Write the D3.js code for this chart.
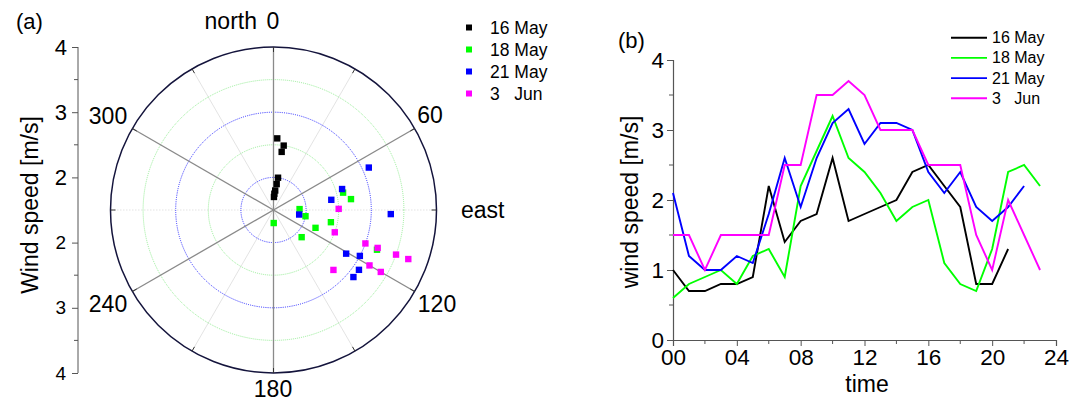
<!DOCTYPE html>
<html>
<head>
<meta charset="utf-8">
<script src="https://cdn.jsdelivr.net/npm/d3@7"></script>
<style>
  html, body { margin: 0; padding: 0; background: #fff; }
  svg { display: block; font-family: Arial, "Liberation Sans", sans-serif; }
  text { white-space: pre; }
</style>
</head>
<body>
<svg id="chart" width="1069" height="402"></svg>
<script>
// ---- data ----
const seriesNames = ["16 May", "18 May", "21 May", "3   Jun"];
const seriesColors = ["#000000", "#00ff00", "#0000ff", "#ff00ff"];

// wind direction (deg, clockwise from north) and speed (m/s)
const dir16May = [3, 9, 8, 8, 7, 5, 3, 2];
const spd16May = [2.6, 2.5, 2.4, 2.0, 1.9, 1.8, 1.75, 1.7];
const dir18May = [179, 88, 101, 76, 82, 113, 102, 111, 134];
const spd18May = [1.7, 1.9, 2.0, 2.6, 2.7, 2.2, 2.4, 3.2, 2.1];
const dir21May = [100, 80, 73, 66, 92, 121, 118, 125, 130];
const spd21May = [1.9, 2.4, 2.6, 3.1, 3.3, 2.8, 3.0, 3.1, 3.1];
const dir3Jun = [89, 110, 110, 110, 110, 110, 120, 120, 135];
const spd3Jun = [2.5, 2.5, 3.0, 3.2, 3.5, 3.7, 3.2, 3.4, 2.8];

// hourly wind speed (m/s)
const hours16May = d3.range(0, 22);
const hours18May = d3.range(0, 24);
const hours21May = d3.range(0, 23);
const hours3Jun = d3.range(0, 24);
const speed16May = [1.0, 0.7, 0.7, 0.8, 0.8, 0.9, 2.2, 1.4, 1.7, 1.8, 2.6, 1.7, 1.8, 1.9, 2.0, 2.4, 2.5, 2.2, 1.9, 0.8, 0.8, 1.3];
const speed18May = [0.6, 0.8, 0.9, 1.0, 0.8, 1.2, 1.3, 0.9, 2.2, 2.7, 3.2, 2.6, 2.4, 2.1, 1.7, 1.9, 2.0, 1.1, 0.8, 0.7, 1.3, 2.4, 2.5, 2.2];
const speed21May = [2.1, 1.2, 1.0, 1.0, 1.2, 1.1, 1.8, 2.6, 1.9, 2.6, 3.1, 3.3, 2.8, 3.1, 3.1, 3.0, 2.4, 2.1, 2.4, 1.9, 1.7, 1.9, 2.2];
const speed3Jun = [1.5, 1.5, 1.0, 1.5, 1.5, 1.5, 1.5, 2.5, 2.5, 3.5, 3.5, 3.7, 3.5, 3.0, 3.0, 3.0, 2.5, 2.5, 2.5, 1.5, 1.0, 2.0, 1.5, 1.0];

const radialTicks = [2, 3, 4];
const radialMinorTicks = [2.5, 3.5];
const greenRings = [2.5, 3.5];
const blueRings = [2, 3];
const majorAngles = [0, 60, 120];
const minorAngles = [30, 90, 150];
const timeTicks = [0, 4, 8, 12, 16, 20, 24];
const timeMinorTicks = [2, 6, 10, 14, 18, 22];
const speedTicks = [0, 1, 2, 3, 4];
const speedMinorTicks = [0.5, 1.5, 2.5, 3.5];

const svg = d3.select("#chart");
const FONT = "Arial, 'Liberation Sans', sans-serif";

// ================= panel (a): polar scatter =================
const cx = 273.5, cy = 210, R = 163;
const rScale = d3.scaleLinear().domain([1.5, 4]).range([0, R]);
const aScale = d3.scaleLinear().domain([0, 360]).range([0, 2 * Math.PI]);
const px = (deg, v) => cx + rScale(v) * Math.sin(aScale(deg));
const py = (deg, v) => cy - rScale(v) * Math.cos(aScale(deg));

const polar = svg.append("g");

// minor spokes
minorAngles.forEach(a => {
  polar.append("line")
    .attr("x1", px(a, 4)).attr("y1", py(a, 4))
    .attr("x2", px(a + 180, 4)).attr("y2", py(a + 180, 4))
    .attr("stroke", "#dcdcdc").attr("stroke-width", 0.8)
    .attr("stroke-dasharray", a === 90 ? "1.5,1.5" : null);
});

// rings
greenRings.forEach(v => {
  polar.append("circle").attr("cx", cx).attr("cy", cy).attr("r", rScale(v))
    .attr("fill", "none").attr("stroke", "#7fe87f").attr("stroke-width", 0.8)
    .attr("stroke-dasharray", "1,1");
});
blueRings.forEach(v => {
  polar.append("circle").attr("cx", cx).attr("cy", cy).attr("r", rScale(v))
    .attr("fill", "none").attr("stroke", "#2a2aff").attr("stroke-width", 1)
    .attr("stroke-dasharray", "1,1.2");
});

// major spokes
majorAngles.forEach(a => {
  polar.append("line")
    .attr("x1", px(a, 4)).attr("y1", py(a, 4))
    .attr("x2", px(a + 180, 4)).attr("y2", py(a + 180, 4))
    .attr("stroke", "#8a8a8a").attr("stroke-width", 1.3);
});

// outer circle and angular ticks
polar.append("circle").attr("cx", cx).attr("cy", cy).attr("r", R)
  .attr("fill", "none").attr("stroke", "#14143c").attr("stroke-width", 1.5);
d3.range(0, 360, 30).forEach(a => {
  polar.append("line")
    .attr("x1", px(a, 4)).attr("y1", py(a, 4))
    .attr("x2", px(a, rScale.invert(R - 5))).attr("y2", py(a, rScale.invert(R - 5)))
    .attr("stroke", "#333").attr("stroke-width", 1);
});

// scatter points
const polarSets = [[dir16May, spd16May], [dir18May, spd18May], [dir21May, spd21May], [dir3Jun, spd3Jun]];
polarSets.forEach(([dirs, spds], i) => {
  polar.append("g").selectAll("rect").data(dirs.map((d, j) => [d, spds[j]])).join("rect")
    .attr("x", d => px(d[0], d[1]) - 3.2).attr("y", d => py(d[0], d[1]) - 3.2)
    .attr("width", 6.4).attr("height", 6.4)
    .attr("fill", seriesColors[i]);
});

// radial axis on the left (mirrored above and below centre)
const axisX = 78;
const rUp = d3.scaleLinear().domain([1.5, 4]).range([cy, cy - R]);
const rDown = d3.scaleLinear().domain([1.5, 4]).range([cy, cy + R]);
const upAxis = svg.append("g").attr("transform", `translate(${axisX},0)`)
  .call(d3.axisLeft(rUp).tickValues(radialTicks).tickSize(6).tickPadding(5).tickFormat(d3.format("d")));
const downAxis = svg.append("g").attr("transform", `translate(${axisX},0)`)
  .call(d3.axisLeft(rDown).tickValues(radialTicks).tickSize(6).tickPadding(6).tickFormat(d3.format("d")));
[upAxis, downAxis].forEach(g => {
  g.select(".domain").remove();
  g.selectAll("line").attr("stroke", "#555");
  g.selectAll("text").attr("fill", "#000").style("font-family", FONT);
});
upAxis.selectAll("text").style("font-size", "22px");
downAxis.selectAll("text").style("font-size", "19px");
[rUp, rDown].forEach(s => {
  radialMinorTicks.forEach(v => {
    svg.append("line").attr("x1", axisX - 4).attr("x2", axisX)
      .attr("y1", s(v)).attr("y2", s(v)).attr("stroke", "#555");
  });
});
svg.append("line").attr("x1", axisX).attr("x2", axisX)
  .attr("y1", cy - R).attr("y2", cy + R).attr("stroke", "#555").attr("stroke-width", 1);

svg.append("text").attr("transform", "translate(38,205) rotate(-90)")
  .attr("text-anchor", "middle").attr("font-size", 23).text("Wind speed [m/s]");

// angle labels
const angleLabels = [
  { t: "north", x: 257, y: 29, a: "end" },
  { t: "0", x: 273, y: 29, a: "middle" },
  { t: "60", x: 430, y: 123, a: "middle" },
  { t: "east", x: 461, y: 218, a: "start" },
  { t: "120", x: 437, y: 312, a: "middle" },
  { t: "180", x: 273, y: 397, a: "middle" },
  { t: "240", x: 108, y: 312, a: "middle" },
  { t: "300", x: 108, y: 124, a: "middle" }
];
svg.append("g").selectAll("text").data(angleLabels).join("text")
  .attr("x", d => d.x).attr("y", d => d.y).attr("text-anchor", d => d.a)
  .attr("font-size", 23).text(d => d.t);

svg.append("text").attr("x", 16).attr("y", 29).attr("font-size", 22).text("(a)");

// legend (a)
const legA = svg.append("g");
seriesNames.forEach((n, i) => {
  const y = 27.5 + i * 22;
  legA.append("rect").attr("x", 466).attr("y", y - 3).attr("width", 6).attr("height", 6).attr("fill", seriesColors[i]);
  legA.append("text").attr("x", 490).attr("y", y + 6).attr("font-size", 17.5).text(n);
});

// ================= panel (b): hourly line chart =================
const x = d3.scaleLinear().domain([0, 24]).range([673, 1056]);
const y = d3.scaleLinear().domain([0, 4]).range([340, 60]);

const xAxis = svg.append("g").attr("transform", "translate(0,340)")
  .call(d3.axisBottom(x).tickValues(timeTicks).tickSize(6).tickPadding(3)
    .tickFormat(d => String(d).padStart(2, "0")));
const yAxis = svg.append("g").attr("transform", "translate(673,0)")
  .call(d3.axisLeft(y).tickValues(speedTicks).tickSize(6).tickPadding(3).tickFormat(d3.format("d")));
[xAxis, yAxis].forEach(g => {
  g.select(".domain").attr("stroke", "#555").attr("stroke-width", 1.2);
  g.selectAll("line").attr("stroke", "#555");
  g.selectAll("text").attr("fill", "#000").style("font-size", "22.5px").style("font-family", FONT);
});
timeMinorTicks.forEach(t => {
  svg.append("line").attr("x1", x(t)).attr("x2", x(t)).attr("y1", 340).attr("y2", 344).attr("stroke", "#555");
});
speedMinorTicks.forEach(v => {
  svg.append("line").attr("x1", 669).attr("x2", 673).attr("y1", y(v)).attr("y2", y(v)).attr("stroke", "#555");
});

const lineSets = [[hours16May, speed16May], [hours18May, speed18May], [hours21May, speed21May], [hours3Jun, speed3Jun]];
const line = d3.line().x(d => x(d[0])).y(d => y(d[1]));
lineSets.forEach(([hs, vs], i) => {
  svg.append("path").datum(hs.map((h, j) => [h, vs[j]]))
    .attr("d", line).attr("fill", "none")
    .attr("stroke", seriesColors[i]).attr("stroke-width", 1.9)
    .attr("stroke-linejoin", "miter");
});

svg.append("text").attr("x", 867).attr("y", 392).attr("text-anchor", "middle").attr("font-size", 23).text("time");
svg.append("text").attr("transform", "translate(638,202) rotate(-90)")
  .attr("text-anchor", "middle").attr("font-size", 23).text("wind speed [m/s]");
svg.append("text").attr("x", 618).attr("y", 48).attr("font-size", 22).text("(b)");

// legend (b)
const legB = svg.append("g");
seriesNames.forEach((n, i) => {
  const yy = 37.7 + i * 20.2;
  legB.append("line").attr("x1", 951).attr("x2", 987).attr("y1", yy).attr("y2", yy)
    .attr("stroke", seriesColors[i]).attr("stroke-width", 1.9);
  legB.append("text").attr("x", 992).attr("y", yy + 5.5).attr("font-size", 16).text(n);
});
</script>
</body>
</html>
